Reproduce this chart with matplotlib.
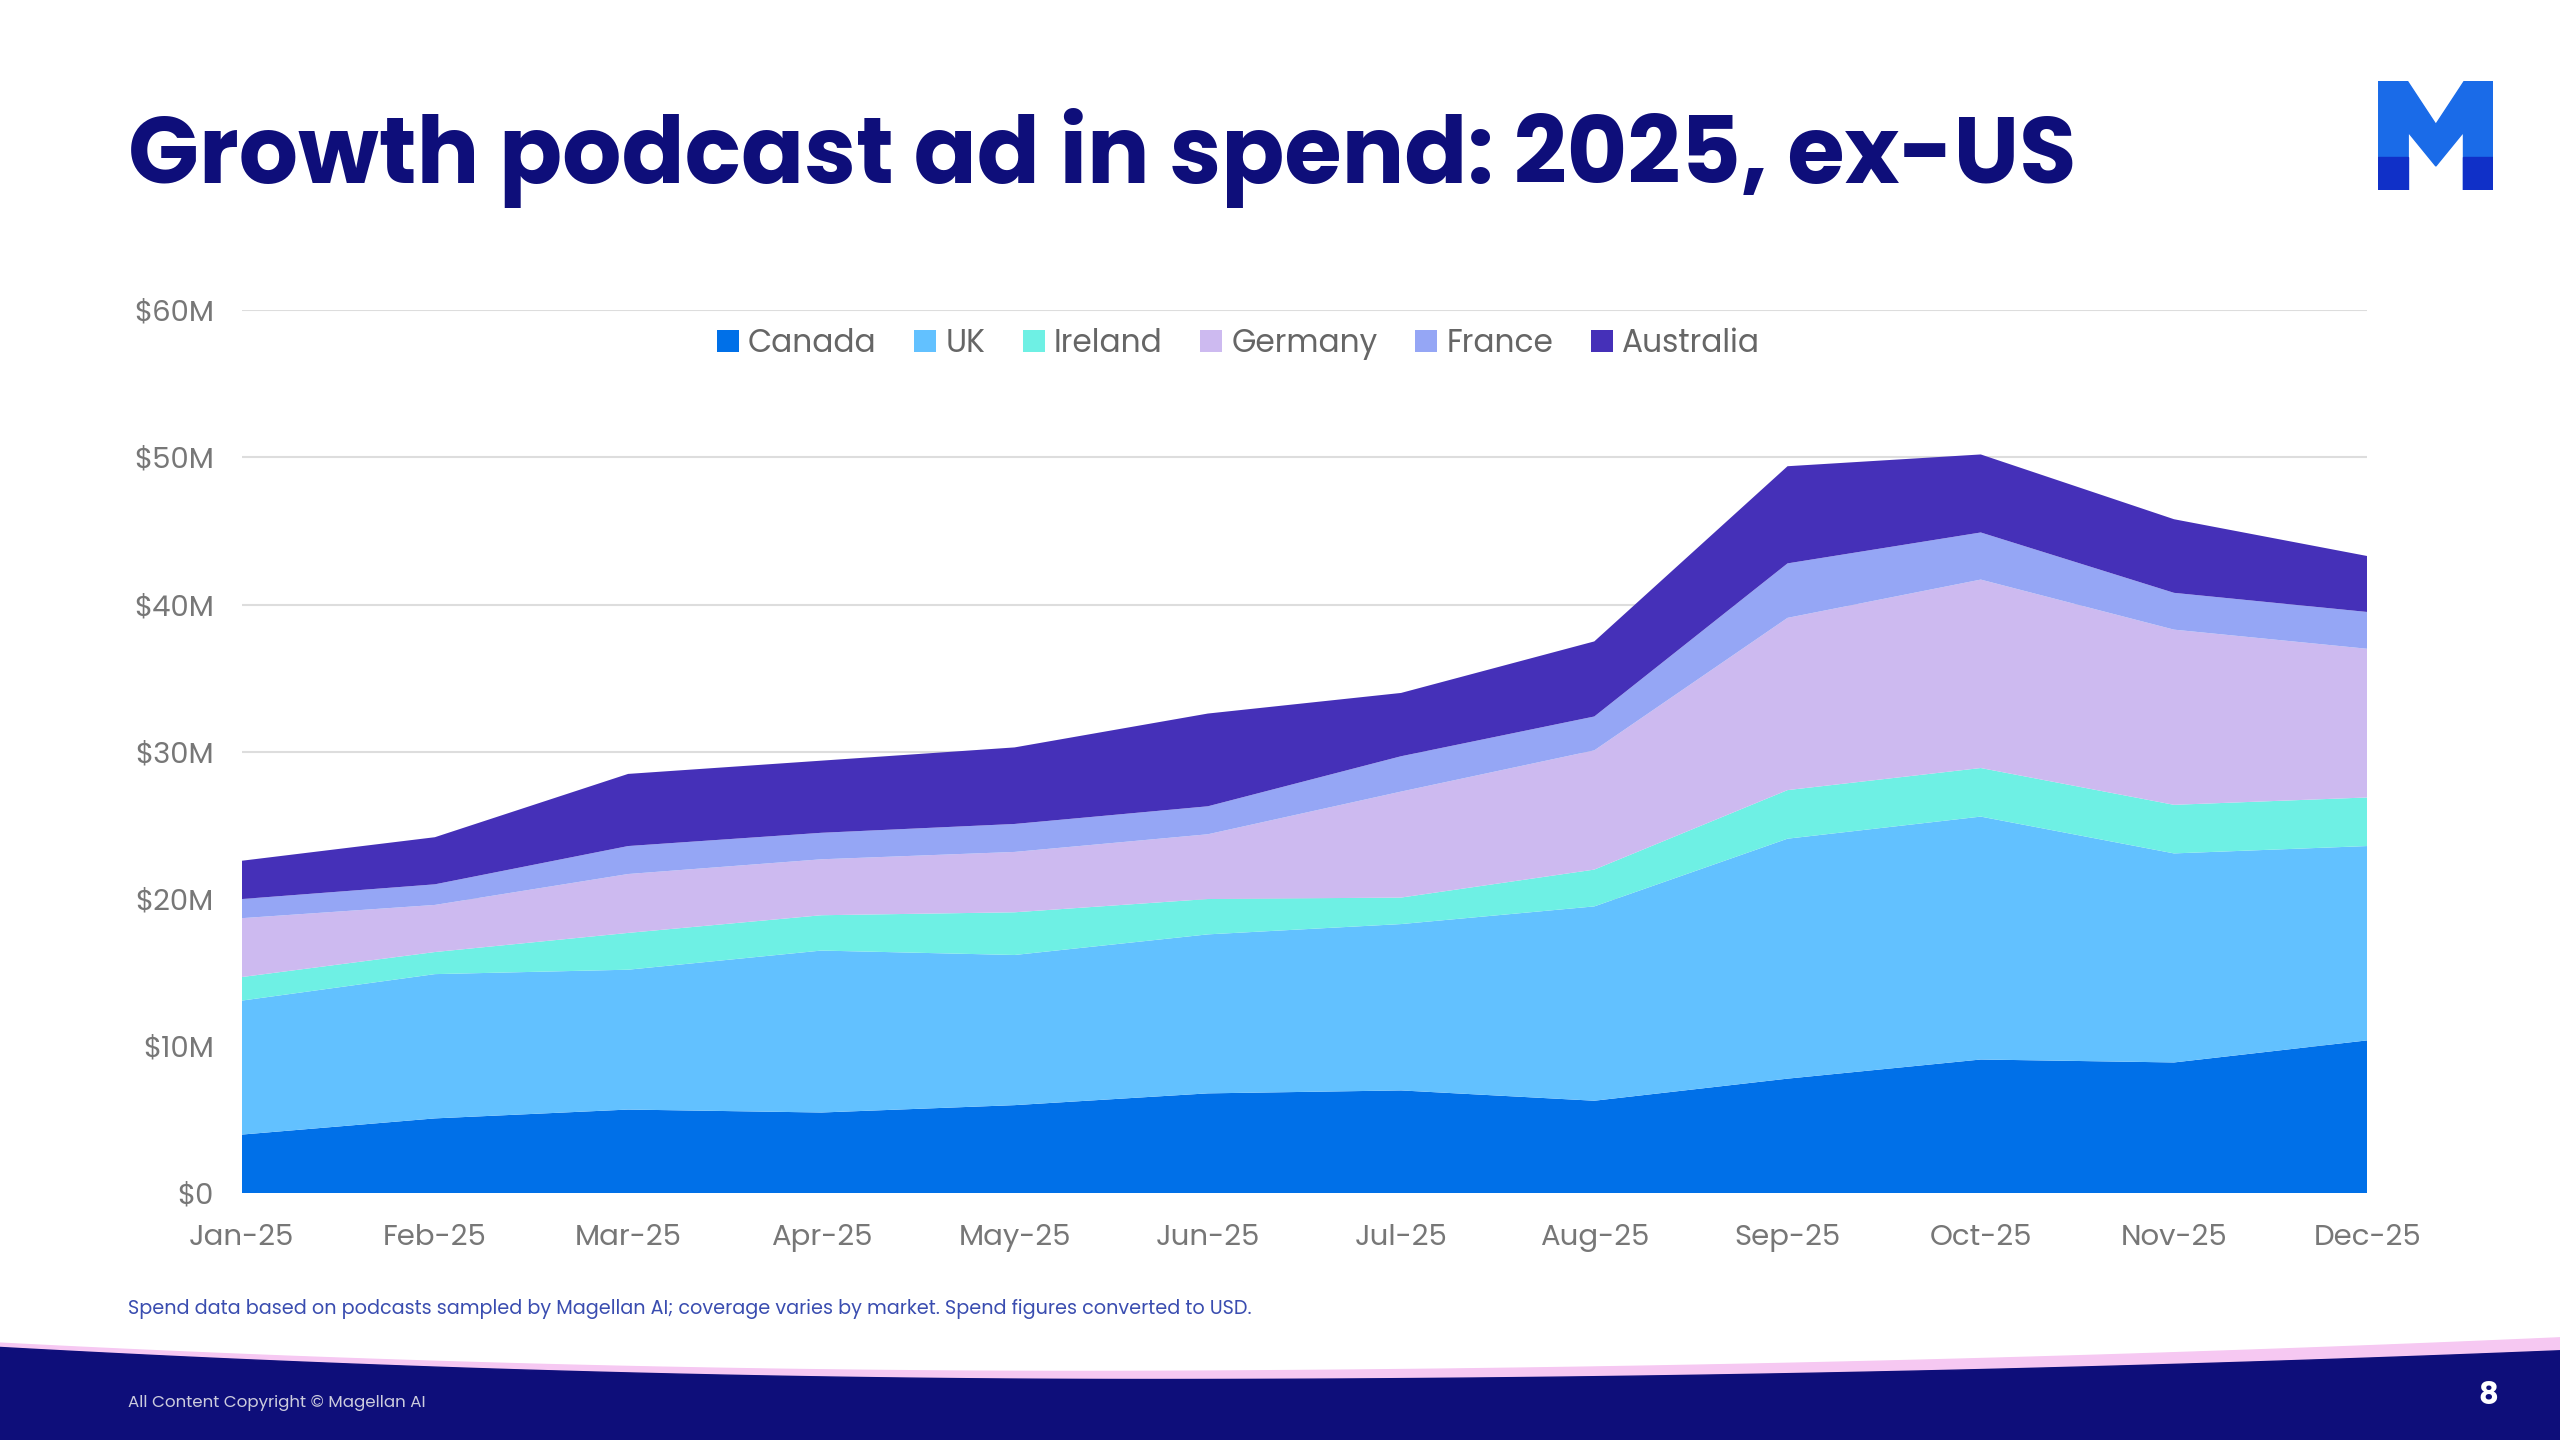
import matplotlib.pyplot as plt
import numpy as np
from matplotlib.patches import Polygon

months = ['Jan-25', 'Feb-25', 'Mar-25', 'Apr-25', 'May-25', 'Jun-25',
          'Jul-25', 'Aug-25', 'Sep-25', 'Oct-25', 'Nov-25', 'Dec-25']
canada = [4.0, 5.1, 5.7, 5.5, 6.0, 6.8, 7.0, 6.3, 7.8, 9.1, 8.9, 10.4]
uk = [9.1, 9.8, 9.5, 11.0, 10.2, 10.8, 11.3, 13.2, 16.3, 16.5, 14.2, 13.2]
ireland = [1.6, 1.5, 2.5, 2.4, 2.9, 2.4, 1.8, 2.5, 3.3, 3.3, 3.3, 3.3]
germany = [4.0, 3.2, 4.0, 3.8, 4.1, 4.4, 7.2, 8.1, 11.7, 12.8, 11.9, 10.1]
france = [1.3, 1.4, 1.9, 1.8, 1.9, 1.9, 2.4, 2.3, 3.7, 3.2, 2.5, 2.5]
australia = [2.6, 3.2, 4.9, 4.9, 5.2, 6.3, 4.3, 5.1, 6.6, 5.3, 5.0, 3.8]

names = ['Canada', 'UK', 'Ireland', 'Germany', 'France', 'Australia']
colors = ['#0070E8', '#62C1FF', '#6EF0E4', '#CDBAF0', '#95A6F5', '#4530B8']
navy = '#0E0E7A'

plt.rcParams['font.family'] = ['Poppins', 'Inter', 'DejaVu Sans']

fig = plt.figure(figsize=(25.6, 14.4), dpi=100)
ax = fig.add_axes([0.0944, 0.1712, 0.8303, 0.6134])

x = np.arange(len(months))
ax.stackplot(x, canada, uk, ireland, germany, france, australia,
             colors=colors, labels=names, linewidth=0)
ax.set_xlim(0, 11)
ax.set_ylim(0, 60)
ax.set_yticks(range(0, 61, 10))
ax.set_yticklabels(['$0'] + ['$%dM' % v for v in range(10, 61, 10)])
ax.set_xticks(x)
ax.set_xticklabels(months)
ax.grid(axis='y', color='#DDDDDD', linewidth=1.5)
ax.set_axisbelow(True)
for s in ax.spines.values():
    s.set_visible(False)
ax.tick_params(length=0, labelsize=21, colors='#777777', pad=22)
ax.tick_params(axis='y', pad=20)
ax.legend(loc='upper center', bbox_to_anchor=(0.469, 1.012), ncol=6, frameon=False,
          fontsize=22.5, handlelength=0.7, handleheight=0.7, handletextpad=0.3,
          columnspacing=1.2, labelcolor='#666666')

fig.text(0.05, 0.89, 'Growth podcast ad in spend: 2025, ex-US', fontsize=67,
         fontweight='bold', color=navy, va='center')
fig.text(0.05, 0.091, 'Spend data based on podcasts sampled by Magellan AI; coverage varies by market. Spend figures converted to USD.',
         fontsize=13.8, color='#3A4DB0', va='center')

# footer band with wavy edge
xs = np.linspace(0, 1, 300)
band = np.where(xs < 0.45, 0.042 + 0.11 * (xs - 0.45) ** 2, 0.042 + 0.066 * (xs - 0.45) ** 2)
pink = band + 0.003 + 0.006 * xs
fig.patches.append(Polygon(np.column_stack([np.r_[xs, xs[::-1]], np.r_[pink, band[::-1]]]),
                           closed=True, transform=fig.transFigure, color='#F6C8F2', zorder=0))
fig.patches.append(Polygon(np.column_stack([np.r_[xs, 1, 0], np.r_[band, 0, 0]]),
                           closed=True, transform=fig.transFigure, color=navy, zorder=1))
fig.text(0.05, 0.026, 'All Content Copyright \u00a9 Magellan AI', fontsize=12,
         color='#CCCCDD', va='center', zorder=3)
fig.text(0.976, 0.03, '8', fontsize=22, fontweight='bold', color='white',
         va='center', ha='right', zorder=3)

# logo
lg = fig.add_axes([0.929, 0.868, 0.045, 0.076])
lg.set_xlim(0, 10)
lg.set_ylim(0, 10)
lg.axis('off')
lg.add_patch(Polygon([(0, 0), (0, 10), (2.5, 10), (5, 6), (7.5, 10), (10, 10), (10, 0),
                      (7.4, 0), (7.4, 5.3), (5, 2.2), (2.6, 5.3), (2.6, 0)], color='#1A6BE8'))
lg.add_patch(Polygon([(0, 0), (0, 3), (2.6, 3), (2.6, 0)], color='#1030C8'))
lg.add_patch(Polygon([(7.4, 0), (7.4, 3), (10, 3), (10, 0)], color='#1030C8'))

fig.savefig('out.png', dpi=100)
